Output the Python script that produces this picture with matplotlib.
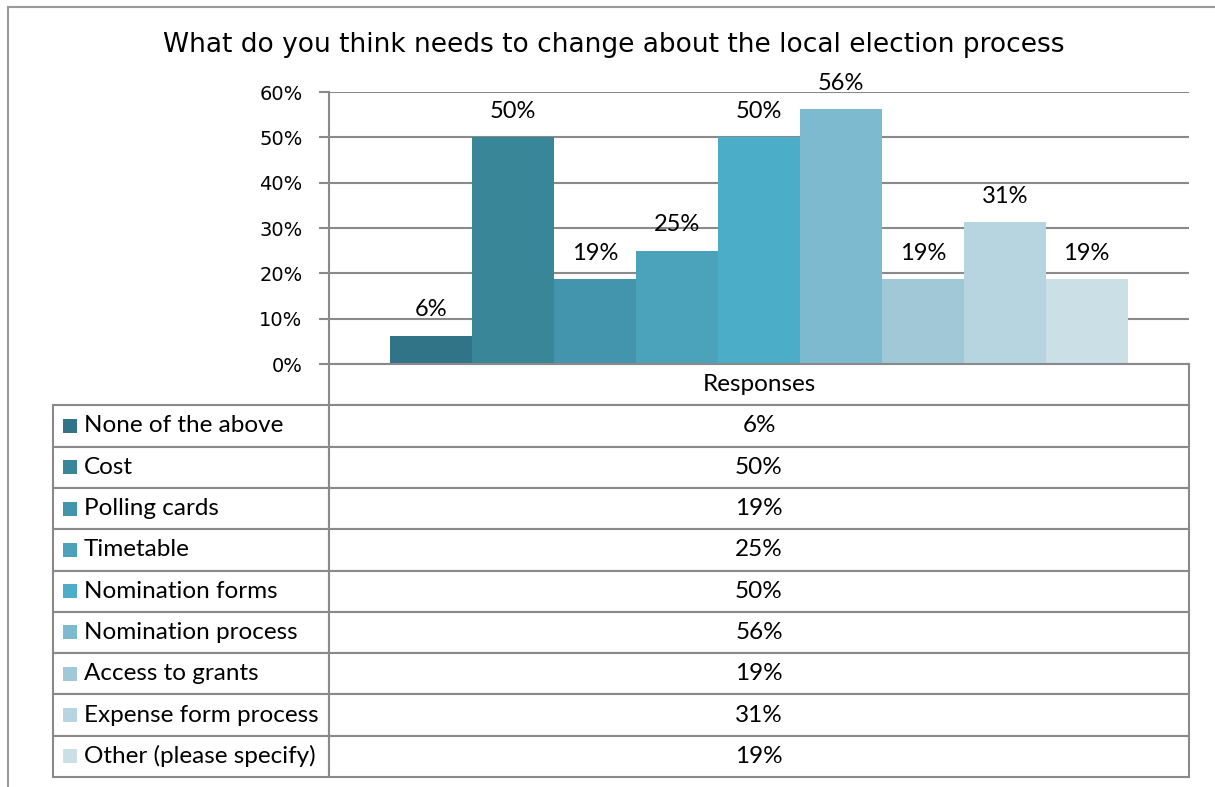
import matplotlib.pyplot as plt
from matplotlib.patches import Rectangle
from matplotlib.lines import Line2D
from matplotlib.ticker import PercentFormatter

# survey answers (16 respondents)
categories = ['None of the above', 'Cost', 'Polling cards', 'Timetable',
              'Nomination forms', 'Nomination process', 'Access to grants',
              'Expense form process', 'Other (please specify)']
values = [6.25, 50, 18.75, 25, 50, 56.25, 18.75, 31.25, 18.75]
colors = ['#327487', '#3a8699', '#4395ad', '#4aa3bb', '#4badc7',
          '#7dbacf', '#a0c8d7', '#b7d5e0', '#cbdfe7']
series_name = 'Responses'
title = 'What do you think needs to change about the local election process'

W, H = 1215, 787
grey = '#8a8a8a'

fig = plt.figure(figsize=(W / 100, H / 100), dpi=100)


def fbox(x0, y0, x1, y1):
    # pixel box -> figure fraction [left, bottom, width, height]
    return [x0 / W, 1 - y1 / H, (x1 - x0) / W, (y1 - y0) / H]


# chart area
ax = fig.add_axes(fbox(329, 92, 1189, 364))
x = [0.75 + i for i in range(len(values))]
ax.bar(x, values, width=1.0, align='edge', color=colors, zorder=3)
for xi, v in zip(x, values):
    ax.annotate(f'{v:.0f}%', (xi + 0.5, v), xytext=(0, 11), textcoords='offset points',
                ha='center', va='bottom', fontsize=17, family='Lato')

ax.set_xlim(0, 10.5)
ax.set_ylim(0, 60)
ax.set_yticks(range(0, 61, 10))
ax.yaxis.set_major_formatter(PercentFormatter(decimals=0))
ax.set_xticks([])
ax.grid(axis='y', color=grey, linewidth=1.5, zorder=0)
for side in ['top', 'right', 'bottom']:
    ax.spines[side].set_visible(False)
ax.spines['left'].set_color(grey)
ax.spines['left'].set_linewidth(1.5)
ax.tick_params(axis='y', length=7, width=1.5, color=grey, labelsize=14, pad=12)
for lab in ax.get_yticklabels():
    lab.set_family('DejaVu Sans')

fig.text(614 / W, 1 - 45 / H, title, ha='center', va='center', fontsize=19, family='DejaVu Sans')

# data table below the chart
tax = fig.add_axes(fbox(53, 364, 1189, 777))
tax.axis('off')
cell_text = [[c, f'{v:.0f}%'] for c, v in zip(categories, values)]
tbl = tax.table(cellText=cell_text, colLabels=['', series_name],
                colWidths=[276 / 1136, 860 / 1136], cellLoc='center',
                bbox=[0, 0, 1, 1])
tbl.auto_set_font_size(False)
for (r, c), cell in tbl.get_celld().items():
    cell.set_edgecolor(grey)
    cell.set_linewidth(1.5)
    cell.get_text().set_fontsize(17.5)
    cell.get_text().set_family('Lato')
    if c == 0:
        cell._loc = 'left'
        cell.PAD = 0.112
        cell.get_text().set_horizontalalignment('left')
    if r == 0 and c == 0:
        cell.visible_edges = ''

n_rows = len(categories) + 1
row_h = 1 / n_rows
for i, col in enumerate(colors):
    yc = 1 - row_h * (i + 1.5)
    sq_w = 14 / 1136
    sq_h = 14 / 413
    tax.add_patch(Rectangle((10 / 1136, yc - sq_h / 2), sq_w, sq_h, facecolor=col,
                            edgecolor='none', transform=tax.transAxes, clip_on=False))

# outer chart border (cropped on the right and bottom)
fig.add_artist(Line2D([8 / W, 1], [1 - 7 / H, 1 - 7 / H], color='#9a9a9a', linewidth=1.5))
fig.add_artist(Line2D([8 / W, 8 / W], [0, 1 - 7 / H], color='#9a9a9a', linewidth=1.5))

fig.savefig('out.png', dpi=100)
